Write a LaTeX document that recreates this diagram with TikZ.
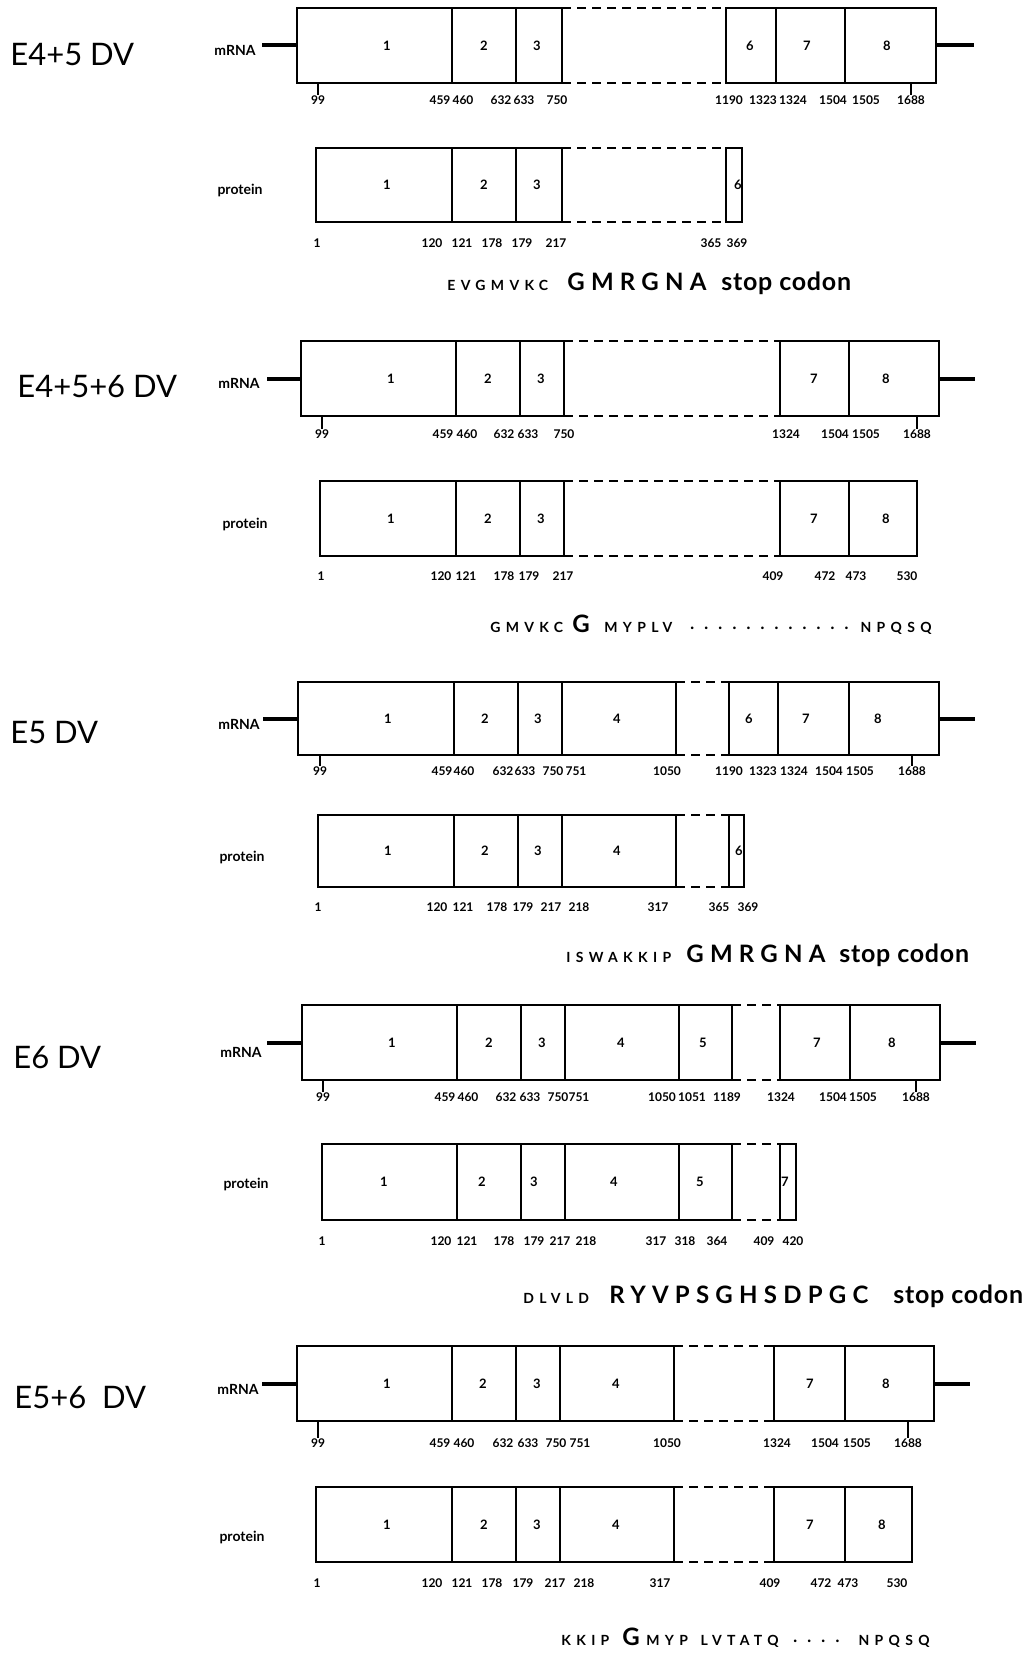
\documentclass[tikz,border=0pt]{standalone}
\usepackage{fontspec}
\setmainfont{Lato}
\newfontfamily\seqfont[LetterSpace=38]{Lato}
\newfontfamily\bigseqfont[LetterSpace=26]{Lato}
\newfontfamily\stopfont[LetterSpace=3]{Lato}
\usepackage{tikz}
\tikzset{
  dv/.style={x=0.5pt, y=-0.5pt, line join=miter},
  exon/.style={draw, line width=0.9pt, inner sep=0pt, outer sep=0pt, anchor=north west},
  gapline/.style={line width=0.8pt, dash pattern=on 4.5pt off 3pt},
  utr/.style={line width=2pt},
  tickline/.style={line width=0.6pt},
  exno/.style={font=\bfseries\fontsize{6.5}{7}\selectfont, inner sep=0pt},
  ntlabel/.style={font=\bfseries\fontsize{6}{7}\selectfont, inner sep=0pt},
  rowlbl/.style={font=\bfseries\fontsize{7}{8}\selectfont, inner sep=0pt},
  dvtitle/.style={font=\fontsize{15.5}{17}\selectfont, inner sep=0pt, anchor=west},
  sseq/.style={font=\seqfont\bfseries\fontsize{7}{8}\selectfont, inner sep=0pt, anchor=base west},
  bseq/.style={font=\bigseqfont\bfseries\fontsize{12}{13}\selectfont, inner sep=0pt, anchor=base west},
  stopc/.style={font=\stopfont\bfseries\fontsize{12.5}{13}\selectfont, inner sep=0pt, anchor=base west}
}
% #1 row, #2 top, #3 bottom, #4 left/right/label x/exon
\newcommand{\exons}[4]{%
  \foreach \xl/\xr/\xc/\lab in {#4}{
    \node[exon, minimum width={(\xr-\xl)*0.5pt}, minimum height={(#3-#2)*0.5pt}] (#1\lab) at (\xl,#2) {};
    \node[exno] (#1\lab-no) at (\xc,{(#2+#3)/2}) {\lab};}}
% #1 row, #2 y, #3 x/number
\newcommand{\coords}[3]{%
  \foreach \xp/\txt in {#3}
    \node[ntlabel] (#1-\txt) at (\xp,#2) {\txt};}
\newcommand{\dotrun}[1]{\foreach \k in {1,...,#1}{\makebox[7pt]{·}}}

\begin{document}
\begin{tikzpicture}[dv]
\path[use as bounding box, fill=white] (0,0) rectangle (1031,1653);

% E4+5 DV
\node[dvtitle] (tA) at (10,55) {E4+5 DV};
\node[rowlbl] (mA) at (235,50) {mRNA}; \node[rowlbl] (pA) at (240,190) {protein};
\exons{Am}{8}{83}{297/452/387/1, 452/516/484/2, 516/562/537/3, 726/776/750/6, 776/845/807/7, 845/936/887/8}
\draw[gapline] (Am3.north east) -- (Am6.north west) (Am3.south east) -- (Am6.south west);
\draw[utr] (Am1.west) -- ++(-35,0); \draw[utr] (Am8.east) -- ++(38,0);
\coords{Am}{100}{318/99, 440/459, 463/460, 501/632, 524/633, 557/750, 729/1190, 763/1323, 793/1324, 833/1504, 866/1505, 911/1688}
\draw[tickline] (Am-99 |- Am1.south) -- (Am-99.north); \draw[tickline] (Am-1688 |- Am8.south) -- (Am-1688.north);
\exons{Ap}{148}{222}{316/452/387/1, 452/516/484/2, 516/562/537/3, 726/742/738/6}
\draw[gapline] (Ap3.north east) -- (Ap6.north west) (Ap3.south east) -- (Ap6.south west);
\coords{Ap}{243}{317/1, 432/120, 462/121, 492/178, 522/179, 556/217, 711/365, 737/369}
\node[sseq] (sA1) at (447,291) {EVGMVKC}; \node[bseq] (sA2) at (567,291) {GMRGNA};
\node[stopc] (sA3) at (721,291) {stop codon};

% E4+5+6 DV
\node[dvtitle] (tB) at (17,387) {E4+5+6 DV};
\node[rowlbl] (mB) at (239,383) {mRNA}; \node[rowlbl] (pB) at (245,524) {protein};
\exons{Bm}{341}{416}{301/456/391/1, 456/520/488/2, 520/564/541/3, 780/849/814/7, 849/939/886/8}
\draw[gapline] (Bm3.north east) -- (Bm7.north west) (Bm3.south east) -- (Bm7.south west);
\draw[utr] (Bm1.west) -- ++(-34,0); \draw[utr] (Bm8.east) -- ++(36,0);
\coords{Bm}{434}{322/99, 443/459, 467/460, 504/632, 528/633, 564/750, 786/1324, 835/1504, 866/1505, 917/1688}
\draw[tickline] (Bm-99 |- Bm1.south) -- (Bm-99.north); \draw[tickline] (Bm-1688 |- Bm8.south) -- (Bm-1688.north);
\exons{Bp}{481}{556}{320/456/391/1, 456/520/488/2, 520/564/541/3, 780/849/814/7, 849/917/886/8}
\draw[gapline] (Bp3.north east) -- (Bp7.north west) (Bp3.south east) -- (Bp7.south west);
\coords{Bp}{576}{321/1, 441/120, 466/121, 504/178, 529/179, 563/217, 773/409, 825/472, 856/473, 907/530}
\node[sseq] (sB1) at (490,632) {GMVKC}; \node[bseq] (sB2) at (572,632) {G};
\node[sseq] (sB3) at (604,632) {MYPLV}; \node[sseq] (sB4) at (685,632) {\dotrun{12}};
\node[sseq, anchor=base east] (sB5) at (932,632) {NPQSQ};

% E5 DV
\node[dvtitle] (tC) at (10,733) {E5 DV};
\node[rowlbl] (mC) at (239,724) {mRNA}; \node[rowlbl] (pC) at (242,857) {protein};
\exons{Cm}{682}{755}{298/454/388/1, 454/518/485/2, 518/562/538/3, 562/676/617/4, 729/778/749/6, 778/849/806/7, 849/939/878/8}
\draw[gapline] (Cm4.north east) -- (Cm6.north west) (Cm4.south east) -- (Cm6.south west);
\draw[utr] (Cm1.west) -- ++(-35,0); \draw[utr] (Cm8.east) -- ++(36,0);
\coords{Cm}{771}{320/99, 442/459, 464/460, 503/632, 525/633, 553/750, 576/751, 667/1050, 729/1190, 763/1323, 794/1324, 829/1504, 860/1505, 912/1688}
\draw[tickline] (Cm-99 |- Cm1.south) -- (Cm-99.north); \draw[tickline] (Cm-1688 |- Cm8.south) -- (Cm-1688.north);
\exons{Cp}{815}{887}{318/454/388/1, 454/518/485/2, 518/562/538/3, 562/676/617/4, 729/744/739/6}
\draw[gapline] (Cp4.north east) -- (Cp6.north west) (Cp4.south east) -- (Cp6.south west);
\coords{Cp}{907}{318/1, 437/120, 463/121, 497/178, 523/179, 551/217, 579/218, 658/317, 719/365, 748/369}
\node[sseq] (sC1) at (566,962) {ISWAKKIP}; \node[bseq] (sC2) at (686,962) {GMRGNA};
\node[stopc] (sC3) at (839,962) {stop codon};

% E6 DV
\node[dvtitle] (tD) at (13,1058) {E6 DV};
\node[rowlbl] (mD) at (241,1052) {mRNA}; \node[rowlbl] (pD) at (246,1184) {protein};
\exons{Dm}{1005}{1080}{302/457/392/1, 457/521/489/2, 521/565/542/3, 565/679/621/4, 679/732/703/5, 780/850/817/7, 850/940/892/8}
\draw[gapline] (Dm5.north east) -- (Dm7.north west) (Dm5.south east) -- (Dm7.south west);
\draw[utr] (Dm1.west) -- ++(-35,0); \draw[utr] (Dm8.east) -- ++(36,0);
\coords{Dm}{1097}{323/99, 445/459, 468/460, 506/632, 530/633, 558/750, 579/751, 662/1050, 692/1051, 727/1189, 781/1324, 833/1504, 863/1505, 916/1688}
\draw[tickline] (Dm-99 |- Dm1.south) -- (Dm-99.north); \draw[tickline] (Dm-1688 |- Dm8.south) -- (Dm-1688.north);
\exons{Dp}{1144}{1220}{322/457/384/1, 457/521/482/2, 521/565/534/3, 565/679/614/4, 679/732/700/5, 780/796/785/7}
\draw[gapline] (Dp5.north east) -- (Dp7.north west) (Dp5.south east) -- (Dp7.south west);
\coords{Dp}{1241}{322/1, 441/120, 467/121, 504/178, 534/179, 560/217, 586/218, 656/317, 685/318, 717/364, 764/409, 793/420}
\node[sseq] (sD1) at (523,1303) {DLVLD}; \node[bseq] (sD2) at (609,1303) {RYVPSGHSDPGC};
\node[stopc] (sD3) at (893,1303) {stop codon};

% E5+6 DV
\node[dvtitle] (tE) at (14,1398) {E5+6~~DV};
\node[rowlbl] (mE) at (238,1389) {mRNA}; \node[rowlbl] (pE) at (242,1537) {protein};
\exons{Em}{1346}{1421}{297/452/387/1, 452/516/483/2, 516/560/537/3, 560/674/616/4, 774/845/810/7, 845/934/886/8}
\draw[gapline] (Em4.north east) -- (Em7.north west) (Em4.south east) -- (Em7.south west);
\draw[utr] (Em1.west) -- ++(-35,0); \draw[utr] (Em8.east) -- ++(36,0);
\coords{Em}{1443}{318/99, 440/459, 464/460, 503/632, 528/633, 556/750, 580/751, 667/1050, 777/1324, 825/1504, 857/1505, 908/1688}
\draw[tickline] (Em-99 |- Em1.south) -- (Em-99.north); \draw[tickline] (Em-1688 |- Em8.south) -- (Em-1688.north);
\exons{Ep}{1487}{1562}{316/452/387/1, 452/516/484/2, 516/560/537/3, 560/674/616/4, 774/845/810/7, 845/912/882/8}
\draw[gapline] (Ep4.north east) -- (Ep7.north west) (Ep4.south east) -- (Ep7.south west);
\coords{Ep}{1583}{317/1, 432/120, 462/121, 492/178, 523/179, 555/217, 584/218, 660/317, 770/409, 821/472, 848/473, 897/530}
\node[sseq] (sE1) at (561,1645) {KKIP}; \node[bseq] (sE2) at (622,1645) {G};
\node[sseq] (sE3) at (646,1645) {MYP\hspace{2pt} LVTATQ}; \node[sseq] (sE4) at (788,1645) {\dotrun{4}};
\node[sseq, anchor=base east] (sE5) at (930,1645) {NPQSQ};
\end{tikzpicture}
\end{document}
